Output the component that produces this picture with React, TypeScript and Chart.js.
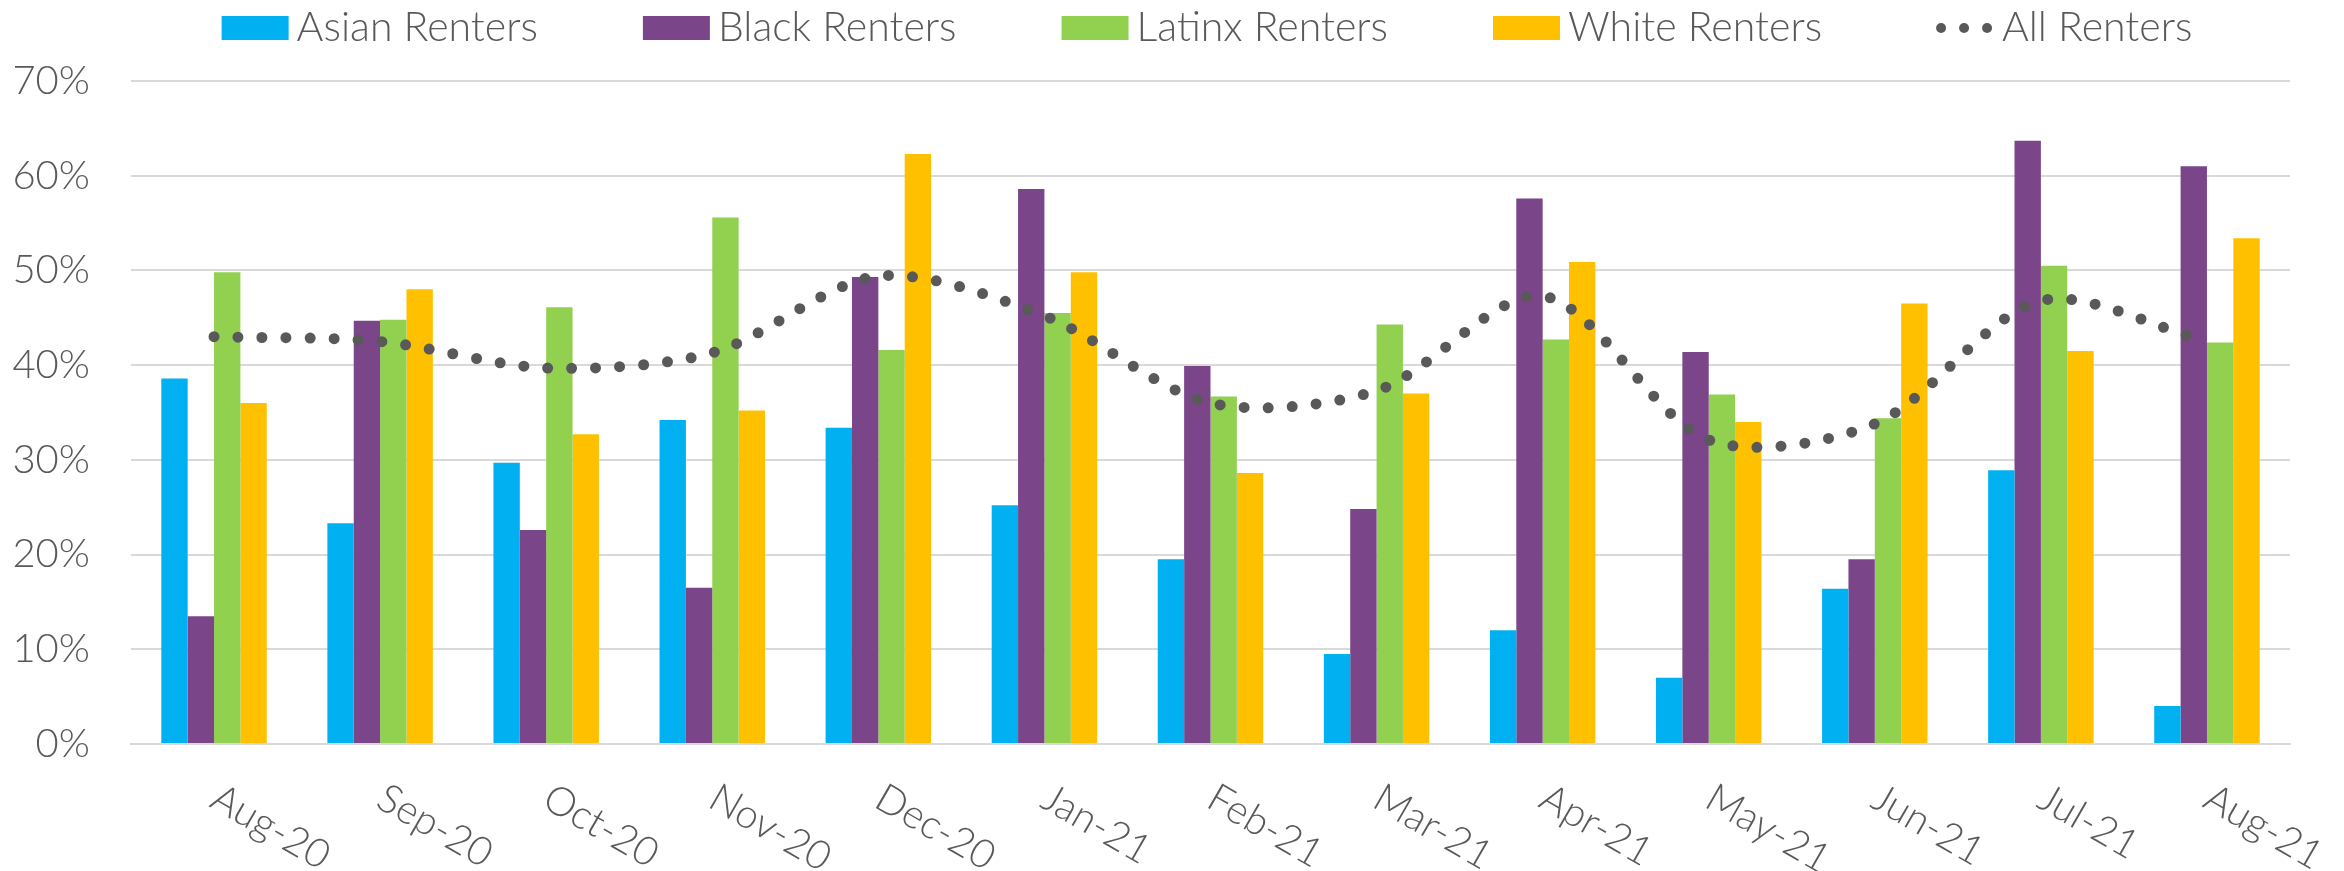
import React, { useEffect, useRef } from "react";
import { Chart, registerables } from "chart.js";

Chart.register(...registerables);

const categories = ["Aug-20", "Sep-20", "Oct-20", "Nov-20", "Dec-20", "Jan-21", "Feb-21", "Mar-21", "Apr-21", "May-21", "Jun-21", "Jul-21", "Aug-21"];
const asianRenters = [38.6, 23.3, 29.7, 34.2, 33.4, 25.2, 19.5, 9.5, 12.0, 7.0, 16.4, 28.9, 4.0];
const blackRenters = [13.5, 44.7, 22.6, 16.5, 49.3, 58.6, 39.9, 24.8, 57.6, 41.4, 19.5, 63.7, 61.0];
const latinxRenters = [49.8, 44.8, 46.1, 55.6, 41.6, 45.5, 36.7, 44.3, 42.7, 36.9, 34.4, 50.5, 42.4];
const whiteRenters = [36.0, 48.0, 32.7, 35.2, 62.3, 49.8, 28.6, 37.0, 50.9, 34.0, 46.5, 41.5, 53.4];
const allRenters = [43.0, 42.5, 39.7, 41.3, 49.4, 45.2, 36.0, 37.3, 47.3, 32.1, 33.8, 46.8, 42.5];
const seriesNames = ["Asian Renters", "Black Renters", "Latinx Renters", "White Renters", "All Renters"];

const COLORS = ["#00B0F0", "#7A4589", "#92D050", "#FFC000", "#595959"];
const TEXT = "#595959";
const FONT = "Lato, 'Open Sans', sans-serif";
const WEIGHT = 300;

const customLegend = {
  id: "customLegend",
  afterDraw(chart: any) {
    const ctx = chart.ctx;
    ctx.save();
    ctx.font = `${WEIGHT} 41px ${FONT}`;
    ctx.fillStyle = TEXT;
    ctx.textBaseline = "middle";
    const sw = 67, sh = 24, gap = 8, spacing = 105;
    const widths = seriesNames.map((n) => ctx.measureText(n).width);
    const total = widths.reduce((a, b) => a + b, 0) + seriesNames.length * (sw + gap) + (seriesNames.length - 1) * spacing;
    let x = 1207 - total / 2;
    const cy = 28;
    seriesNames.forEach((name, i) => {
      if (i < 4) {
        ctx.fillStyle = COLORS[i];
        ctx.fillRect(x, cy - sh / 2, sw, sh);
      } else {
        ctx.fillStyle = COLORS[4];
        [0, 1, 2].forEach((k) => {
          ctx.beginPath();
          ctx.arc(x + 14 + k * 23, cy, 5, 0, Math.PI * 2);
          ctx.fill();
        });
      }
      ctx.fillStyle = TEXT;
      ctx.fillText(name, x + sw + gap, cy);
      x += sw + gap + widths[i] + spacing;
    });
    ctx.restore();
  },
};

const rotatedXLabels = {
  id: "rotatedXLabels",
  afterDraw(chart: any) {
    const ctx = chart.ctx;
    const xs = chart.scales.x;
    const bottom = chart.chartArea.bottom;
    ctx.save();
    ctx.font = `${WEIGHT} 40px ${FONT}`;
    ctx.fillStyle = TEXT;
    ctx.textAlign = "left";
    ctx.textBaseline = "alphabetic";
    categories.forEach((lab, i) => {
      const x = xs.getPixelForTick(i);
      ctx.save();
      ctx.translate(x - 6, bottom + 62);
      ctx.rotate((30 * Math.PI) / 180);
      ctx.fillText(lab, 0, 0);
      ctx.restore();
    });
    ctx.restore();
  },
};

export default function App() {
  const ref = useRef<HTMLCanvasElement | null>(null);
  useEffect(() => {
    if (!ref.current) return;
    const barDs = (label: string, data: number[], color: string) => ({
      type: "bar" as const,
      label,
      data,
      backgroundColor: color,
      borderWidth: 0,
      categoryPercentage: 0.635,
      barPercentage: 1.0,
      order: 1,
    });
    const chart = new Chart(ref.current, {
      type: "bar",
      data: {
        labels: categories,
        datasets: [
          barDs(seriesNames[0], asianRenters, COLORS[0]),
          barDs(seriesNames[1], blackRenters, COLORS[1]),
          barDs(seriesNames[2], latinxRenters, COLORS[2]),
          barDs(seriesNames[3], whiteRenters, COLORS[3]),
          {
            type: "line" as const,
            label: seriesNames[4],
            data: allRenters,
            borderColor: COLORS[4],
            borderWidth: 11,
            borderDash: [0, 24],
            borderCapStyle: "round",
            pointRadius: 0,
            tension: 0.3,
            fill: false,
            order: 0,
          } as any,
        ],
      },
      options: {
        animation: false,
        responsive: false,
        maintainAspectRatio: false,
        layout: { padding: { top: 81, right: 54, left: 0, bottom: 0 } },
        plugins: { legend: { display: false }, tooltip: { enabled: false } },
        scales: {
          x: {
            grid: { display: false },
            border: { display: true, color: "#D9D9D9", width: 2 },
            ticks: { display: false },
            afterFit: (s: any) => {
              s.height = 871 - 744;
            },
          },
          y: {
            min: 0,
            max: 70,
            ticks: {
              stepSize: 10,
              padding: 41,
              color: TEXT,
              font: { family: FONT, size: 40, weight: WEIGHT as any },
              callback: (v: any) => `${v}%`,
            },
            grid: { color: "#D9D9D9", lineWidth: 2, drawTicks: false },
            border: { display: false },
            afterFit: (s: any) => {
              s.width = 131;
            },
          },
        },
      },
      plugins: [customLegend, rotatedXLabels],
    });
    return () => chart.destroy();
  }, []);
  return (
    <div style={{ position: "fixed", left: 0, top: 0, width: 2344, height: 871, background: "#fff" }}>
      <canvas ref={ref} width={2344} height={871} style={{ width: 2344, height: 871 }} />
    </div>
  );
}
